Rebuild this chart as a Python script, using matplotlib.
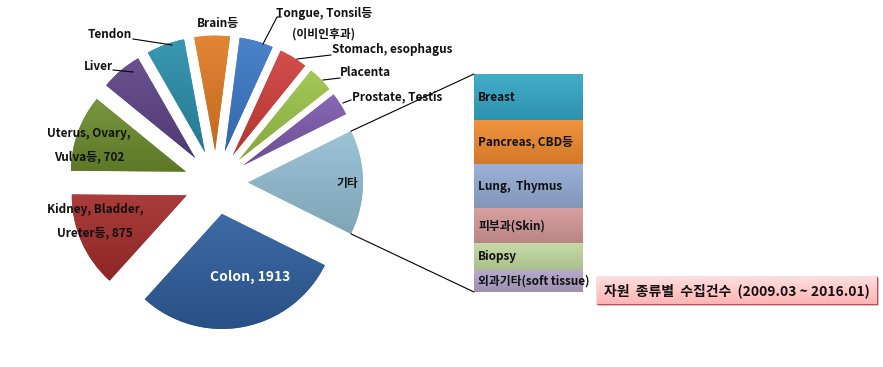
import matplotlib
matplotlib.use("Agg")
import matplotlib.pyplot as plt
from matplotlib.patches import ConnectionPatch, Rectangle
from matplotlib.colors import to_rgb
import numpy as np

plt.rcParams['font.family'] = ['Noto Sans CJK KR', 'DejaVu Sans']

# main pie, counter-clockwise starting from the "others" slice on the right
pie_labels = ["기타", "Prostate, Testis", "Placenta", "Stomach, esophagus",
              "Tongue, Tonsil등\n(이비인후과)", "Brain등", "Tendon", "Liver",
              "Uterus, Ovary,\nVulva등, 702", "Kidney, Bladder,\nUreter등, 875",
              "Colon, 1913"]
pie_values = [960, 210, 235, 260, 310, 325, 350, 380, 702, 875, 1913]
pie_colors = ["#93BFD3", "#7E5AAE", "#9BC449", "#CF3F3B", "#3B78C6", "#E07B24",
              "#2A8EAA", "#5D4386", "#6C8C2E", "#A32C2B", "#2E5E9C"]

# breakdown of "기타", top to bottom
bar_labels = ["Breast", "Pancreas, CBD등", "Lung,  Thymus", "피부과(Skin)",
              "Biopsy", "외과기타(soft tissue)"]
bar_values = [203, 194, 194, 154, 119, 97]
bar_colors = ["#33A6C6", "#EF8A2E", "#93ABD3", "#D49798", "#C2D8A0", "#B2A4C9"]

title = "자원  종류별  수집건수  (2009.03 ~ 2016.01)"


def shade(axis, patch, color, light=0.08, dark=0.14):
    # vertical gradient (lighter on top) clipped to the patch
    c = np.array(to_rgb(color))
    top = c + (1 - c) * light
    bot = c * (1 - dark)
    t = np.linspace(0, 1, 64)[:, None]
    img = (top * (1 - t) + bot * t)[:, None, :]
    bb = patch.get_path().transformed(patch.get_patch_transform()).get_extents()
    im = axis.imshow(img, extent=(bb.x0, bb.x1, bb.y0, bb.y1), origin='upper',
                     aspect='auto', interpolation='bilinear', zorder=patch.get_zorder())
    im.set_clip_path(patch)


H = 367
fig = plt.figure(figsize=(8.83, 3.67), dpi=100)
ax = fig.add_axes([0, 0, 1, 1])

total = sum(pie_values)
start = -360 * pie_values[0] / total / 2
wedges, _ = ax.pie(pie_values, colors=pie_colors, startangle=start,
                   counterclock=True, radius=115, center=(216, H - 182.5),
                   explode=[32] * len(pie_values),
                   wedgeprops=dict(linewidth=0))
for wd, c in zip(wedges, pie_colors):
    shade(ax, wd, c)
ax.set_xlim(0, 883)
ax.set_ylim(0, H)
ax.set_aspect('equal')
ax.axis('off')

lab = dict(fontsize=8.5, fontweight='bold', color='#111111')
ax.text(250, H - 277, "Colon, 1913", ha='center', va='center', fontsize=10,
        fontweight='bold', color='white', zorder=5)
ax.text(95, H - 221, pie_labels[9], ha='center', va='center',
        linespacing=2.0, zorder=5, **lab)
ax.text(89, H - 145, pie_labels[8], ha='center', va='center',
        linespacing=2.0, zorder=5, **lab)
ax.text(347, H - 183, pie_labels[0], ha='center', va='center', zorder=5, **lab)
ax.text(218, H - 24, pie_labels[5], ha='center', va='center', **lab)
ax.text(113, H - 67, pie_labels[7], ha='right', va='center', **lab)
ax.text(132, H - 35, pie_labels[6], ha='right', va='center', **lab)
ax.text(324, H - 24, pie_labels[4], ha='center', va='center',
        linespacing=1.7, **lab)
ax.text(332, H - 50, pie_labels[3], ha='left', va='center', **lab)
ax.text(340, H - 73, pie_labels[2], ha='left', va='center', **lab)
ax.text(352, H - 97, pie_labels[1], ha='left', va='center', zorder=5, **lab)

# leader lines
leaders = [[(113, 70), (133, 72)],
           [(133, 39), (172, 45)],
           [(263, 44), (277, 17), (281, 17)],
           [(297, 59), (331, 55)],
           [(323, 80), (340, 78)],
           [(343, 103), (351, 100)]]
for pts in leaders:
    xs, ys = zip(*pts)
    ax.plot(xs, [H - y for y in ys], color='black', lw=0.8)

# stacked bar for "기타"
ax2 = fig.add_axes([474 / 883, (H - 292) / H, 109 / 883, 218 / H])
bottom = sum(bar_values)
for name, v, c in zip(bar_labels, bar_values, bar_colors):
    bottom -= v
    bars = ax2.bar(0, v, bottom=bottom, width=1, color=c, linewidth=0)
    shade(ax2, bars[0], c, light=0.08, dark=0.12)
    ax2.text(-0.46, bottom + v / 2, name, ha='left', va='center', zorder=5,
             fontsize=8.5, fontweight='bold', color='#111111', clip_on=False)
ax2.set_xlim(-0.5, 0.5)
ax2.set_ylim(0, sum(bar_values))
ax2.axis('off')

# connector lines from the "기타" slice to the bar
w = wedges[0]
for ang, yb in [(w.theta2, 1), (w.theta1, 0)]:
    p = (w.center[0] + w.r * np.cos(np.radians(ang)),
         w.center[1] + w.r * np.sin(np.radians(ang)))
    con = ConnectionPatch(xyA=p, coordsA=ax.transData, xyB=(0, yb),
                          coordsB=ax2.transAxes, color='black', lw=0.8)
    fig.add_artist(con)

# title box
ax.add_patch(Rectangle((599, H - 306), 280, 27, facecolor='#BBBBBB',
                       edgecolor='none', alpha=0.6))
box = Rectangle((597, H - 304), 280, 27, facecolor='#FFBDBD',
                edgecolor='#C0504D', lw=1, zorder=3)
ax.add_patch(box)
shade(ax, box, '#FFB4B4', light=0.55, dark=0.0)
ax.text(737, H - 290.5, title, ha='center', va='center', fontsize=10,
        fontweight='bold', color='#111111', zorder=5)

fig.savefig("out.png", dpi=100)
